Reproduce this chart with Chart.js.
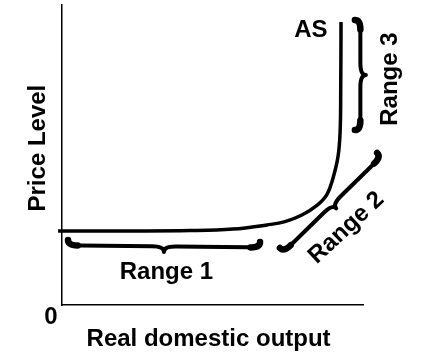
<!DOCTYPE html>
<html>
<head>
<meta charset="utf-8">
<script src="https://cdn.jsdelivr.net/npm/chart.js@4"></script>
<style>
  html, body { margin: 0; padding: 0; background: #fff; }
  #wrap { width: 435px; height: 355px; }
</style>
</head>
<body>
<div id="wrap"><canvas id="chart" width="435" height="355"></canvas></div>
<script>
// AS curve (x = real output, y = price level)
var asX = [-1.3, 19.3, 42.5, 56.8, 68.1, 74.1, 79.7, 84.7, 88.0, 90.0, 91.7, 92.4, 92.6, 92.7];
var asY = [24.7, 24.7, 24.8, 25.3, 26.7, 27.8, 30.0, 33.2, 36.8, 42.2, 49.5, 57.8, 71.7, 94.3];

// braces: start point, end point, which side the point sticks out
var braceFromX = [2.0, 72.4, 97.3];
var braceFromY = [21.7, 19.0, 95.0];
var braceToX = [65.8, 104.7, 97.3];
var braceToY = [21.0, 50.7, 58.3];
var braceSide = [1, 1, -1];

// labels
var labelText = ['AS', 'Range 1', 'Range 2', 'Range 3', 'Price Level', 'Real domestic output', '0'];
var labelX = [82.7, 34.7, 94.5, 109.0, -8.0, 48.7, -3.65];
var labelY = [91.7, 11.0, 25.7, 75.3, 52.3, -11.3, -4.0];
var labelAngle = [0, 0, -43, -90, -90, 0, 0];

var asPoints = asX.map(function(x, i){ return {x: x, y: asY[i]}; });

function brace(ctx, ax, ay, bx, by, side, h){
    var dx = bx - ax, dy = by - ay;
    var len = Math.sqrt(dx*dx + dy*dy);
    var ux = dx/len, uy = dy/len;
    var nx = -uy*side, ny = ux*side;
    var q = Math.min(12, len/6);
    var mx = (ax+bx)/2, my = (ay+by)/2;

    ctx.beginPath();
    ctx.moveTo(ax, ay);
    ctx.quadraticCurveTo(ax+nx*h, ay+ny*h, ax+nx*h+ux*q, ay+ny*h+uy*q);
    ctx.lineTo(mx+nx*h-ux*q, my+ny*h-uy*q);
    ctx.quadraticCurveTo(mx+nx*h, my+ny*h, mx+nx*2*h, my+ny*2*h);
    ctx.quadraticCurveTo(mx+nx*h, my+ny*h, mx+nx*h+ux*q, my+ny*h+uy*q);
    ctx.lineTo(bx+nx*h-ux*q, by+ny*h-uy*q);
    ctx.quadraticCurveTo(bx+nx*h, by+ny*h, bx, by);
    ctx.lineWidth = 4;
    ctx.stroke();

    // heavier ends
    ctx.lineWidth = 6.5;
    ctx.beginPath();
    ctx.moveTo(ax, ay);
    ctx.quadraticCurveTo(ax+nx*h, ay+ny*h, ax+nx*h+ux*q*0.8, ay+ny*h+uy*q*0.8);
    ctx.stroke();
    ctx.beginPath();
    ctx.moveTo(bx, by);
    ctx.quadraticCurveTo(bx+nx*h, by+ny*h, bx+nx*h-ux*q*0.8, by+ny*h-uy*q*0.8);
    ctx.stroke();
}

var extras = {
    id: 'extras',
    afterDraw: function(chart){
        var ctx = chart.ctx;
        var xs = chart.scales.x, ys = chart.scales.y;
        ctx.save();
        ctx.strokeStyle = '#000';
        ctx.lineCap = 'round';
        ctx.lineJoin = 'round';
        for(var i = 0; i < braceSide.length; i++){
            brace(ctx,
                xs.getPixelForValue(braceFromX[i]), ys.getPixelForValue(braceFromY[i]),
                xs.getPixelForValue(braceToX[i]), ys.getPixelForValue(braceToY[i]),
                braceSide[i], 5.5);
        }
        ctx.fillStyle = '#000';
        ctx.font = 'bold 24px "Liberation Sans", Arial, sans-serif';
        ctx.textAlign = 'center';
        ctx.textBaseline = 'middle';
        for(var j = 0; j < labelText.length; j++){
            ctx.save();
            ctx.translate(xs.getPixelForValue(labelX[j]), ys.getPixelForValue(labelY[j]));
            ctx.rotate(labelAngle[j] * Math.PI / 180);
            ctx.fillText(labelText[j], 0, 0);
            ctx.restore();
        }
        ctx.restore();
    }
};

var ctx = document.getElementById('chart').getContext('2d');
var myChart = new Chart(ctx, {
    type: 'scatter',
    data: {
        datasets: [{
            label: 'AS',
            data: asPoints,
            showLine: true,
            borderColor: '#000',
            borderWidth: 3.5,
            pointRadius: 0,
            tension: 0.4,
            clip: false
        }]
    },
    options: {
        responsive: false,
        animation: false,
        events: [],
        layout: { autoPadding: false, padding: { left: 62, right: 72, top: 5, bottom: 50 } },
        plugins: { legend: { display: false }, tooltip: { enabled: false } },
        scales: {
            x: {
                min: 0, max: 100,
                ticks: { display: false },
                grid: { display: false, drawTicks: false },
                border: { display: true, color: '#000', width: 1.5 }
            },
            y: {
                min: 0, max: 100,
                ticks: { display: false },
                grid: { display: false, drawTicks: false },
                border: { display: true, color: '#000', width: 1.5 }
            }
        }
    },
    plugins: [extras]
});
</script>
</body>
</html>
